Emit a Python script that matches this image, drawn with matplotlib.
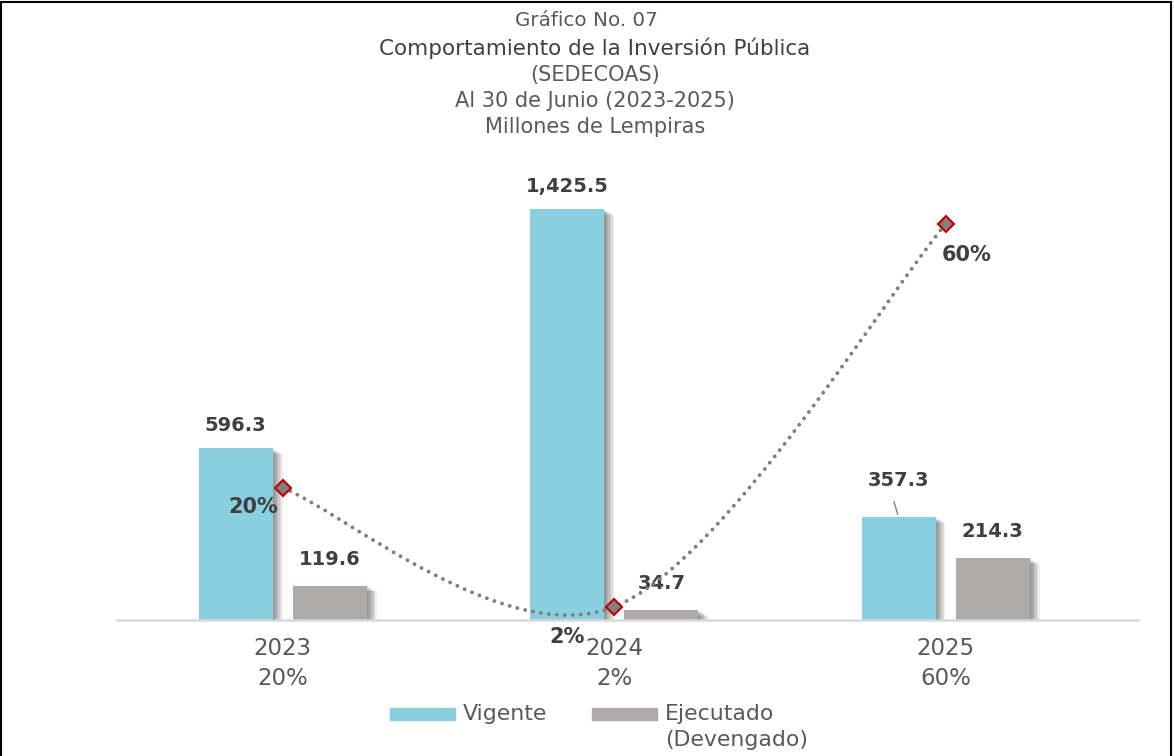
import numpy as np
import matplotlib
matplotlib.use("Agg")
import matplotlib.pyplot as plt
import matplotlib.patheffects as pe
from matplotlib.path import Path
from matplotlib.patches import PathPatch, Rectangle

plt.rcParams['font.family'] = ['DejaVu Sans']

# datos
anios = ["2023", "2024", "2025"]
vigente = [596.3, 1425.5, 357.3]
ejecutado = [119.6, 34.7, 214.3]
porcentaje = [20, 2, 60]

c_vig = '#89CFDF'
c_eje = '#ADAAA9'
c_txt = '#404040'
c_gris = '#595959'

fig = plt.figure(figsize=(11.74, 7.56), dpi=100)
ax = fig.add_axes([0.0997, 0.1799, 0.8696, 0.5952])
x = np.arange(len(anios))
ancho = 0.224
desp = 0.142

# sombra difusa con varias capas
sombra = [pe.SimplePatchShadow(offset=(o, -o * 0.6), shadow_rgbFace='#000000', alpha=0.07)
          for o in (1, 2, 3, 4, 5, 6, 7)] + [pe.Normal()]
b1 = ax.bar(x - desp, vigente, ancho, color=c_vig, path_effects=sombra, zorder=2)
b2 = ax.bar(x + desp, ejecutado, ancho, color=c_eje, path_effects=sombra, zorder=2)

ax.set_xlim(-0.5, 2.58)
ax.set_ylim(0, 1561)
for s in ['top', 'right', 'left']:
    ax.spines[s].set_visible(False)
ax.spines['bottom'].set_color('#D9D9D9')
ax.spines['bottom'].set_linewidth(1.8)
ax.set_yticks([])
ax.set_xticks(x, [f"{a}\n{p}%" for a, p in zip(anios, porcentaje)])
ax.tick_params(axis='x', length=0, pad=12, labelsize=16.5, labelcolor=c_gris)
for t in ax.get_xticklabels():
    t.set_linespacing(1.42)

# etiquetas de barras
for i, v in enumerate(vigente):
    dy = 26 if i == 2 else 16
    ax.annotate(f"{v:,.1f}", (x[i] - desp, v), xytext=(0, dy), textcoords='offset points',
                ha='center', va='center', fontsize=14, fontweight='bold', color=c_txt)
# linea guia del 357.3
ax.annotate("", (x[2] - desp, vigente[2]), xytext=(-4, 13), textcoords='offset points',
            arrowprops=dict(arrowstyle='-', color='#7F7F7F', lw=1))
for i, v in enumerate(ejecutado):
    ax.annotate(f"{v:,.1f}", (x[i] + desp, v), xytext=(0, 19), textcoords='offset points',
                ha='center', va='center', fontsize=14, fontweight='bold', color=c_txt)

# linea de porcentaje (suavizada con bezier)
ax2 = ax.twinx()
ax2.set_ylim(0, 68.2)
ax2.axis('off')
pts = list(zip(x, porcentaje))
verts = [pts[0]]
codes = [Path.MOVETO]
for i in range(len(pts) - 1):
    p0 = np.array(pts[max(i - 1, 0)], float)
    p1 = np.array(pts[i], float)
    p2 = np.array(pts[i + 1], float)
    p3 = np.array(pts[min(i + 2, len(pts) - 1)], float)
    verts += [tuple(p1 + (p2 - p0) / 6), tuple(p2 - (p3 - p1) / 6), tuple(p2)]
    codes += [Path.CURVE4] * 3
curva = PathPatch(Path(verts, codes), fill=False, edgecolor='#7F7F7F', lw=2.8,
                  linestyle=(0, (0.01, 2.05)), capstyle='round', zorder=3)
ax2.add_patch(curva)
ax2.plot(x, porcentaje, 'D', ms=8, mfc='#7F7F7F', mec='#C00000', mew=1.5, zorder=4)
offs = [(-21, -14), (-34, -22), (15, -22)]
for i, p in enumerate(porcentaje):
    ax2.annotate(f"{p}%", (x[i], p), xytext=offs[i], textcoords='offset points',
                 ha='center', va='center', fontsize=15, fontweight='bold', color=c_txt)

# titulos
tx = 595 / 1174
fig.text(586 / 1174, 1 - 20 / 756, "Gráfico No. 07", ha='center', va='center', fontsize=14.3, color=c_gris)
fig.text(tx, 1 - 48 / 756, "Comportamiento de la Inversión Pública", ha='center', va='center',
         fontsize=15.5, color=c_txt)
fig.text(tx, 1 - 75 / 756, "(SEDECOAS)", ha='center', va='center', fontsize=15, color=c_gris)
fig.text(tx, 1 - 101 / 756, "Al 30 de Junio (2023-2025)", ha='center', va='center', fontsize=15, color=c_gris)
fig.text(tx, 1 - 127 / 756, "Millones de Lempiras", ha='center', va='center', fontsize=15, color=c_gris)

# leyenda manual
W, H = 1174, 756
fig.patches.append(Rectangle((390 / W, 1 - 720 / H), 65 / W, 12 / H, transform=fig.transFigure,
                             color=c_vig, figure=fig))
fig.text(463 / W, 1 - 714 / H, "Vigente", ha='left', va='center', fontsize=15.8, color=c_gris)
fig.patches.append(Rectangle((592 / W, 1 - 720 / H), 65 / W, 12 / H, transform=fig.transFigure,
                             color=c_eje, figure=fig))
fig.text(665 / W, 1 - 714 / H, "Ejecutado", ha='left', va='center', fontsize=15.8, color=c_gris)
fig.text(665 / W, 1 - 740 / H, "(Devengado)", ha='left', va='center', fontsize=15.8, color=c_gris)

# marco
fig.patches.append(Rectangle((1 / W, -0.1), 1170 / W, 1.1 - 1.5 / H, transform=fig.transFigure,
                             fill=False, edgecolor='black', lw=1.5, figure=fig))

fig.savefig("out.png", dpi=100)
